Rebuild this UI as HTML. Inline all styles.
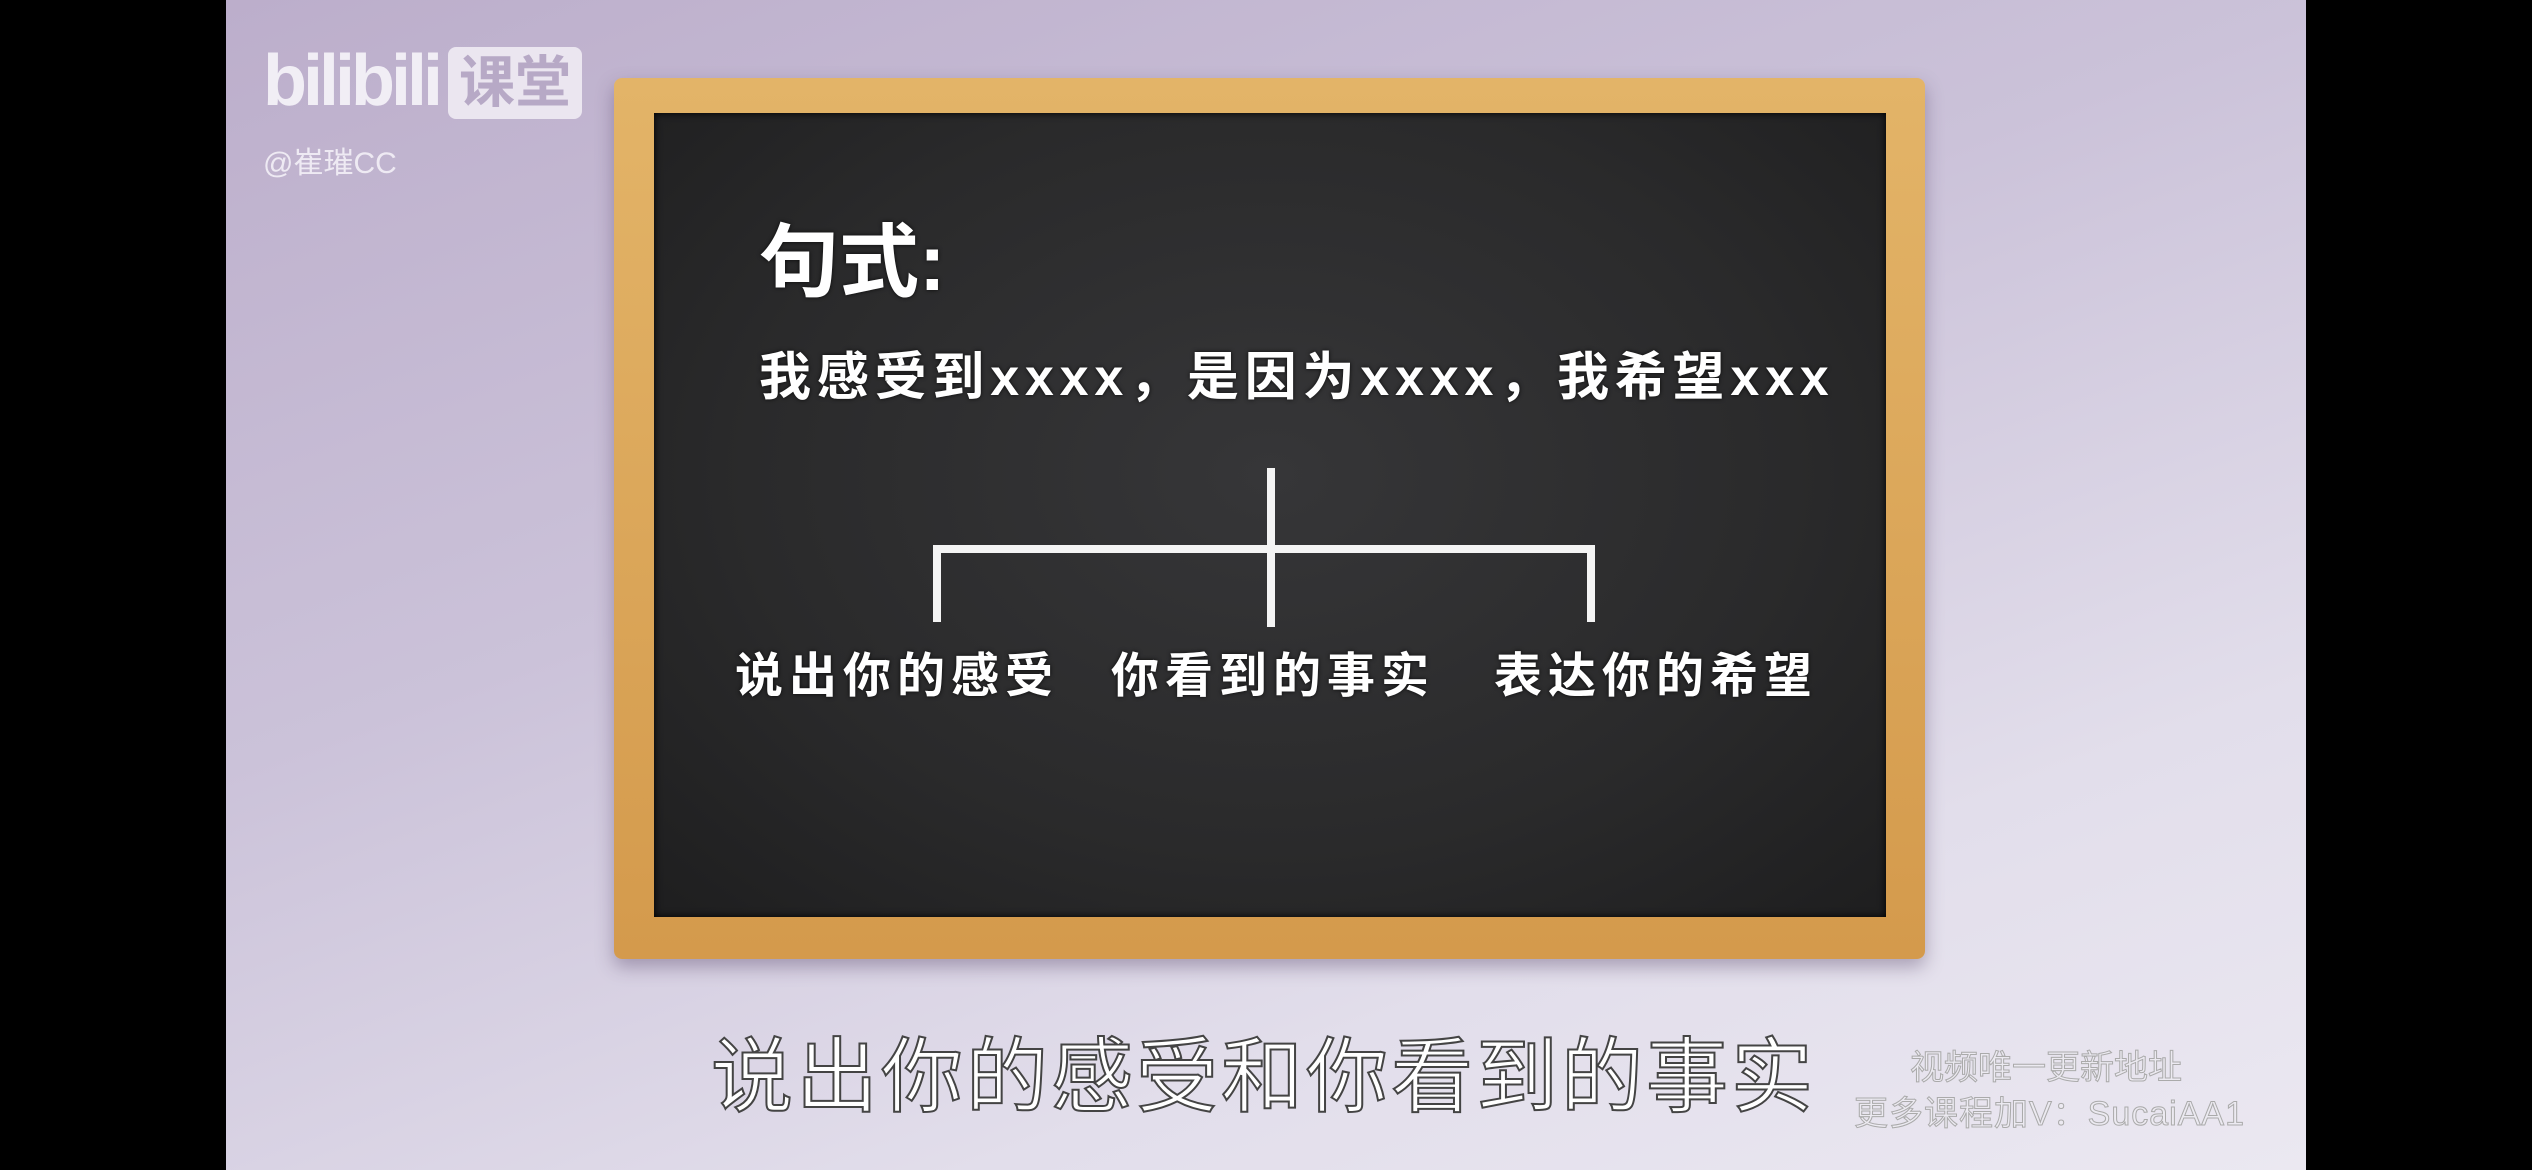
<!DOCTYPE html>
<html><head><meta charset="utf-8"><style>
*{margin:0;padding:0;box-sizing:border-box}
body{width:2532px;height:1170px;overflow:hidden;background:#000;position:relative;font-family:"Liberation Sans","Noto Sans CJK SC",sans-serif}
#bg{position:absolute;left:226px;top:0;width:2080px;height:1170px;background:linear-gradient(160deg,#bcaecb 0%,#cbc2d9 40%,#e2deeb 75%,#ebe8f1 100%)}
.frame{position:absolute;left:614px;top:78px;width:1311px;height:881px;background:linear-gradient(180deg,#e3b468,#d49a4c);border-radius:8px;box-shadow:0 8px 18px rgba(60,40,80,.35)}
.board{position:absolute;left:654px;top:113px;width:1232px;height:804px;background:radial-gradient(ellipse at 50% 45%,#363638 0%,#2a2a2b 60%,#1e1e1f 100%);box-shadow:inset 0 0 8px #000}
.t{position:absolute;color:#fff;font-family:"Liberation Sans","Noto Sans CJK SC",sans-serif;font-weight:bold;white-space:nowrap;text-shadow:0 0 4px rgba(0,0,0,.8)}
.ln{position:absolute;background:#f4f4f4}
</style></head><body>
<div id="bg"></div>
<div style="position:absolute;left:263px;top:40px;font-size:72px;font-weight:bold;color:#f1eef5;letter-spacing:-4px;font-family:'Liberation Sans',sans-serif">bilibili</div>
<div style="position:absolute;left:448px;top:47px;width:134px;height:72px;background:#ebe6f0;border-radius:8px;color:#b7a9c6;font-size:56px;font-weight:bold;text-align:center;line-height:72px;font-family:'Liberation Sans','Noto Sans CJK SC',sans-serif">课堂</div>
<div style="position:absolute;left:263px;top:138px;font-size:30px;color:#eeeaf3">@崔璀CC</div>
<div class="frame"></div>
<div class="board"></div>
<div class="t" style="left:759px;top:198px;font-size:80px">句式:</div>
<div class="t" style="left:759px;top:335px;font-size:52px;letter-spacing:5.8px">我感受到xxxx，是因为xxxx，我希望xxx</div>
<div class="ln" style="left:1267px;top:468px;width:8px;height:159px"></div>
<div class="ln" style="left:933px;top:545px;width:662px;height:8px"></div>
<div class="ln" style="left:933px;top:545px;width:8px;height:77px"></div>
<div class="ln" style="left:1587px;top:545px;width:8px;height:77px"></div>
<div class="t" style="left:735px;top:636px;font-size:48px;letter-spacing:6px">说出你的感受</div>
<div class="t" style="left:1111px;top:636px;font-size:48px;letter-spacing:6px">你看到的事实</div>
<div class="t" style="left:1494px;top:636px;font-size:48px;letter-spacing:6px">表达你的希望</div>
<div style="position:absolute;left:711px;top:1010px;font-size:82px;color:#fff;letter-spacing:3px;-webkit-text-stroke:2px #444;white-space:nowrap">说出你的感受和你看到的事实</div>
<div style="position:absolute;left:1910px;top:1040px;font-size:34px;color:#eceaf1;-webkit-text-stroke:1px #aaa;white-space:nowrap">视频唯一更新地址</div>
<div style="position:absolute;left:1854px;top:1086px;font-size:34px;color:#eceaf1;-webkit-text-stroke:1px #aaa;white-space:nowrap;letter-spacing:1px">更多课程加V：SucaiAA1</div>
</body></html>
